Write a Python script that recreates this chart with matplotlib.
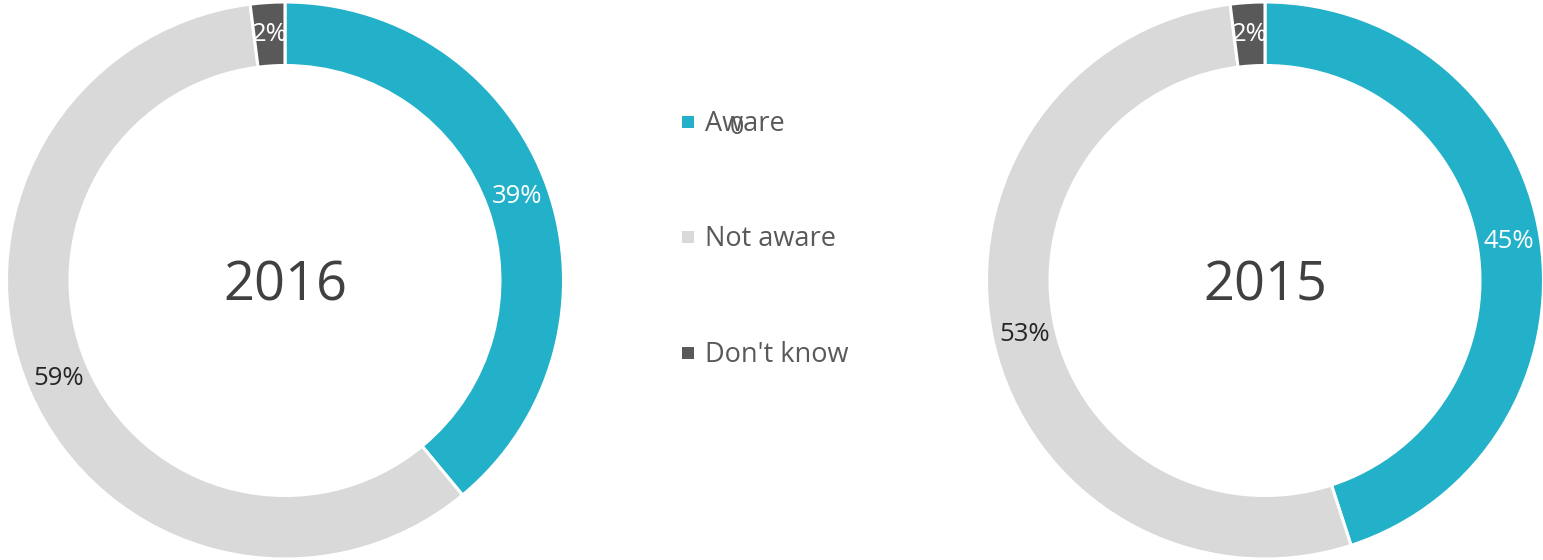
import matplotlib
matplotlib.use("Agg")
import matplotlib.pyplot as plt
from matplotlib.patches import Rectangle
import numpy as np

plt.rcParams['font.family'] = ['Open Sans', 'DejaVu Sans']

categories = ["Aware", "Not aware", "Don't know"]
years = ["2016", "2015"]
values_2016 = [39, 59, 2]
values_2015 = [45, 53, 2]
colors = ["#22B1C9", "#D9D9D9", "#595959"]
label_colors = ["white", "#262626", "white"]

W, H = 1543, 560
fig = plt.figure(figsize=(W / 100, H / 100), dpi=100)

R = 278.5
ring_width = 63.5 / R


def donut(cx, cy, values, year):
    ax = fig.add_axes([(cx - R) / W, (H - cy - R) / H, 2 * R / W, 2 * R / H])
    ax.pie(values, colors=colors, startangle=90, counterclock=False, radius=1.0,
           wedgeprops=dict(width=ring_width, edgecolor="white", linewidth=2.2))
    total = sum(values)
    start = 90.0
    rmid = 1 - ring_width / 2
    for v, lc in zip(values, label_colors):
        span = 360.0 * v / total
        mid = np.deg2rad(start - span / 2)
        ax.text(rmid * np.cos(mid), rmid * np.sin(mid), f"{v}%", ha="center", va="center",
                fontsize=18.5, color=lc)
        start -= span
    ax.text(0, -0.02, year, ha="center", va="center", fontsize=39, color="#404040")
    ax.set_xlim(-1, 1)
    ax.set_ylim(-1, 1)
    ax.set_aspect("equal")
    ax.axis("off")


donut(285, 280.5, values_2016, years[0])
donut(1265, 280.5, values_2015, years[1])

# legend
legend_y = [122, 237, 353]
for name, col, y in zip(categories, colors, legend_y):
    fig.patches.append(Rectangle((682 / W, (H - y - 6) / H), 12 / W, 12 / H,
                                 transform=fig.transFigure, facecolor=col, edgecolor="none"))
    fig.text(705 / W, (H - y - 2) / H, name, ha="left", va="center", fontsize=19.5,
             color="#595959")
fig.text(737 / W, (H - 127) / H, "0", ha="center", va="center", fontsize=18, color="#595959")

fig.savefig("out.png", dpi=100, facecolor="white")
